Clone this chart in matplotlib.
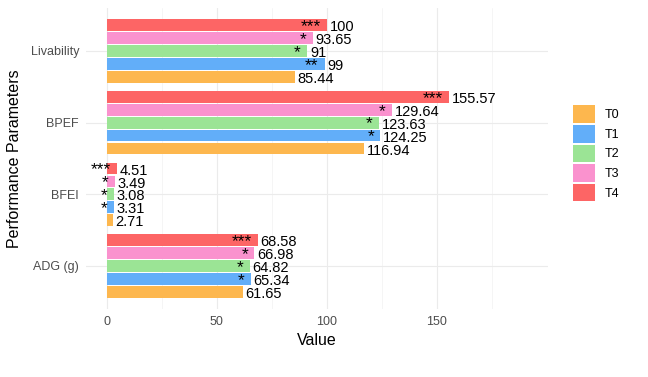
import matplotlib.pyplot as plt
from matplotlib.patches import Patch
import numpy as np

plt.rcParams['font.family'] = ['Liberation Sans', 'DejaVu Sans']

# --- data ---
params = ['ADG (g)', 'BFEI', 'BPEF', 'Livability']
groups = ['T0', 'T1', 'T2', 'T3', 'T4']
colors = ['#FDB74E', '#62AEF9', '#9BE495', '#FA92CE', '#FD6565']

T0 = [61.65, 2.71, 116.94, 85.44]
T1 = [65.34, 3.31, 124.25, 99]
T2 = [64.82, 3.08, 123.63, 91]
T3 = [66.98, 3.49, 129.64, 93.65]
T4 = [68.58, 4.51, 155.57, 100]
values = [T0, T1, T2, T3, T4]

stars_T0 = ['', '', '', '']
stars_T1 = ['*', '*', '*', '**']
stars_T2 = ['*', '*', '*', '*']
stars_T3 = ['*', '*', '*', '*']
stars_T4 = ['***', '***', '***', '***']
stars = [stars_T0, stars_T1, stars_T2, stars_T3, stars_T4]

fig = plt.figure(figsize=(6.48, 3.77), dpi=100)
ax = fig.add_axes([0.1327, 0.1804, 0.713, 0.7984])

y = np.arange(len(params))
step = 0.18
for i, g in enumerate(groups):
    off = (i - 2) * step
    ax.barh(y + off, values[i], height=0.165, color=colors[i], label=g, zorder=2)
    for j, v in enumerate(values[i]):
        lbl = f'{v:g}' if v != int(v) else f'{int(v)}'
        ax.annotate(lbl, (v, y[j] + off), xytext=(2, -1.5), textcoords='offset points',
                    ha='left', va='center', fontsize=10.5, color='black', zorder=3)
        if stars[i][j]:
            ax.annotate(stars[i][j], (v, y[j] + off), xytext=(-4.5, -1), textcoords='offset points',
                        ha='right', va='center', fontsize=12.5, color='black', zorder=3)

ax.set_xlim(-9.5, 200.5)
ax.set_ylim(-0.6, 3.6)
ax.set_xticks([0, 50, 100, 150])
ax.set_xticks([25, 75, 125, 175], minor=True)
ax.set_yticks(y)
ax.set_yticklabels(params)
ax.grid(which='major', color='#EBEBEB', linewidth=0.8, zorder=0)
ax.grid(which='minor', axis='x', color='#F2F2F2', linewidth=0.5, zorder=0)
for s in ax.spines.values():
    s.set_visible(False)
ax.tick_params(which='both', length=0, labelsize=9, labelcolor='#4D4D4D', pad=5)
ax.set_xlabel('Value', fontsize=11.5, labelpad=4)
ax.set_ylabel('Performance Parameters', fontsize=11.5, labelpad=6)

handles = [Patch(facecolor=c, label=g) for c, g in zip(colors, groups)]
fig.legend(handles=handles, loc='center left', bbox_to_anchor=(0.884, 0.593),
           frameon=False, fontsize=9, handlelength=1.8, handleheight=1.8,
           labelspacing=0.15, handletextpad=0.75, borderpad=0, borderaxespad=0)

fig.savefig('out.png', dpi=100)
